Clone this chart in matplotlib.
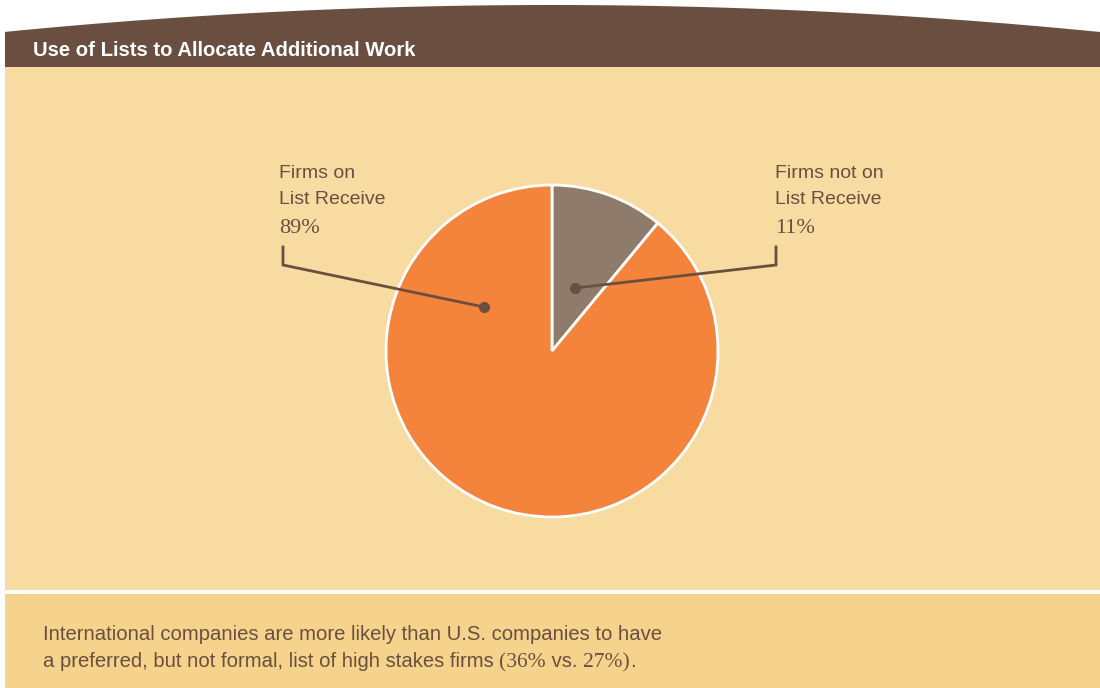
import matplotlib.pyplot as plt
import matplotlib.patches as mpatches
import numpy as np

# chart values
labels = [['Firms not on', 'List Receive'], ['Firms on', 'List Receive']]
shares = [11, 89]
slice_colors = ['#8F7B6B', '#F4843C']

title = 'Use of Lists to Allocate Additional Work'
note_line1 = 'International companies are more likely than U.S. companies to have'
# second line: (text, serif?) pieces
note_line2 = [('a preferred, but not formal, list of high stakes firms ', False),
              ('(36%', True), (' vs. ', False), ('27%)', True), ('.', False)]

W, H = 1100, 688
brown = '#6A4F40'
panel = '#F7DBA0'
footer = '#F5D38C'
SANS = 'Liberation Sans'
SERIF = 'Liberation Serif'

fig = plt.figure(figsize=(W / 100, H / 100), dpi=100)
ax = fig.add_axes([0, 0, 1, 1])


def py(y):
    # pixel row -> data y
    return H - y


# main panel and footer
ax.add_patch(mpatches.Rectangle((5, py(590)), W - 5, 590 - 67, color=panel, lw=0))
ax.add_patch(mpatches.Rectangle((5, py(H)), W - 5, H - 594, color=footer, lw=0))

# curved header band
xs = np.linspace(5, W, 200)
top = 5 + 27 * ((xs - 552) / 548) ** 2
verts = [(x, py(t)) for x, t in zip(xs, top)] + [(W, py(67)), (5, py(67))]
ax.add_patch(mpatches.Polygon(verts, closed=True, color=brown, lw=0))
ax.text(33, py(50), title, color='white', fontsize=14.6, fontweight='bold',
        family=SANS, va='center', ha='left')

# pie
cx, cy, r = 552, py(351), 166
ax.pie(shares, colors=slice_colors, startangle=90, counterclock=False,
       center=(cx, cy), radius=r, frame=True,
       wedgeprops=dict(edgecolor='white', linewidth=2))
ax.set_xlim(0, W)
ax.set_ylim(0, H)
ax.set_aspect('equal')
ax.axis('off')

# labels with leader lines
label_x = [775, 279]
dots = [(575, 288), (484, 307)]
for lab, val, lx, (dx, dy) in zip(labels, shares, label_x, dots):
    ax.text(lx, py(174), lab[0], color=brown, fontsize=14, family=SANS,
            va='center', ha='left')
    ax.text(lx, py(200), lab[1], color=brown, fontsize=14, family=SANS,
            va='center', ha='left')
    ax.text(lx, py(233), f'{val}%', color=brown, fontsize=16,
            family=SERIF, va='baseline', ha='left')
    vx = lx + 4 if lx < cx else lx + 1
    ax.plot([vx, vx, dx], [py(247), py(265), py(dy)], color=brown, lw=2,
            solid_joinstyle='miter')
    ax.plot(dx, py(dy), 'o', color=brown, ms=7)

# footer note
ax.text(43, py(640), note_line1, color=brown, fontsize=14.6,
        family=SANS, va='baseline', ha='left')
fig.canvas.draw()
x = 43
for piece, serif in note_line2:
    t = ax.text(x, py(667), piece, color=brown,
                fontsize=15.5 if serif else 14.6,
                family=SERIF if serif else SANS, va='baseline', ha='left')
    bb = t.get_window_extent()
    x = ax.transData.inverted().transform((bb.x1, 0))[0]

fig.savefig('out.png', dpi=100, facecolor='white')
